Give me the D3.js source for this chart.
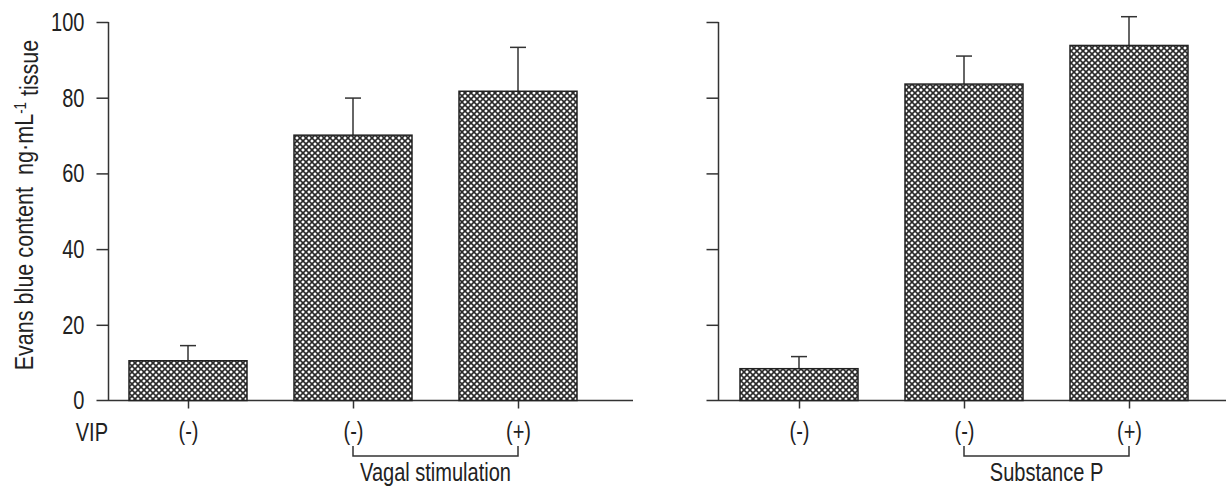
<!DOCTYPE html>
<head>
    <meta charset="utf-8">
    <script src="https://d3js.org/d3.v7.min.js"></script>
    <style>
        body {
            margin: 0;
            background: #fff;
        }
        text {
            font-family: "Liberation Sans", Arial, sans-serif;
            font-size: 26px;
            fill: #222;
        }
        .axis path,
        .axis line,
        .baseline,
        .bracket,
        .err {
            stroke: #333;
            stroke-width: 1.5px;
            fill: none;
        }
        .bar {
            stroke: #222;
            stroke-width: 1.5px;
        }
    </style>
</head>

<body>
<div id="vis"></div>

<script>
    // values
    var groups = ["none", "stim", "stimVip"];
    var vipLabels = ["(-)", "(-)", "(+)"];
    var yTicks = [0, 20, 40, 60, 80, 100];

    var vagalMean = [10.5, 70.1, 81.7],
        vagalErr = [4.0, 9.8, 11.6];

    var spMean = [8.4, 83.6, 93.8],
        spErr = [3.2, 7.4, 7.6];

    var width = 1229,
        height = 489;

    var barWidth = 118;
    var squeeze = 0.77; // no condensed font installed, so squeeze the text

    var svg = d3.select("#vis")
        .append("svg")
        .attr("width", width)
        .attr("height", height);

    // crosshatch fill
    var pat = svg.append("defs").append("pattern")
        .attr("id", "hatch")
        .attr("patternUnits", "userSpaceOnUse")
        .attr("width", 6)
        .attr("height", 6);
    pat.append("rect")
        .attr("width", 6)
        .attr("height", 6)
        .attr("fill", "#fff");
    pat.append("path")
        .attr("d", "M0,0L6,6M6,0L0,6")
        .attr("stroke", "#2a2a2a")
        .attr("stroke-width", 1.6);

    var y = d3.scaleLinear()
        .domain([0, 100])
        .range([400.5, 22]);

    // turn x/y into a translate + horizontal squeeze
    function narrow(sel) {
        sel.each(function() {
            var t = d3.select(this),
                tx = +t.attr("x") || 0,
                ty = +t.attr("y") || 0;
            t.attr("x", null).attr("y", null)
                .attr("transform", "translate(" + tx + "," + ty + ") scale(" + squeeze + ",1)");
        });
    }

    function panel(opts) {
        var x = d3.scalePoint()
            .domain(groups)
            .range(opts.range);

        var g = svg.append("g");

        // baseline
        g.append("line")
            .attr("class", "baseline")
            .attr("x1", opts.axisX - 12)
            .attr("x2", opts.baseEnd)
            .attr("y1", y(0))
            .attr("y2", y(0));

        // y axis
        var yAxis = d3.axisLeft(y)
            .tickValues(yTicks.slice(1))
            .tickSize(12)
            .tickSizeOuter(0)
            .tickPadding(12)
            .tickFormat(opts.labels ? d3.format("d") : "");

        var ga = g.append("g")
            .attr("class", "axis")
            .attr("transform", "translate(" + opts.axisX + ",0)")
            .call(yAxis);
        ga.select(".domain").attr("d", "M0," + y(0) + "V" + y(100));
        ga.selectAll("text").attr("fill", "#222").style("font-size", "26px").call(narrow);

        if (opts.labels) {
            g.append("text")
                .attr("x", opts.axisX - 24)
                .attr("y", y(0))
                .attr("dy", "0.34em")
                .attr("text-anchor", "end")
                .text("0")
                .call(narrow);
        }

        // x ticks
        var xAxis = d3.axisBottom(x)
            .tickSize(8)
            .tickPadding(13)
            .tickFormat(function(d, i) { return vipLabels[i]; });

        var gx = g.append("g")
            .attr("class", "axis")
            .attr("transform", "translate(0," + y(0) + ")")
            .call(xAxis);
        gx.select(".domain").remove();
        gx.selectAll("text").attr("fill", "#222").style("font-size", "26px").call(narrow);

        var data = groups.map(function(k, i) {
            return {key: k, mean: opts.mean[i], err: opts.err[i]};
        });

        // error bars
        var eb = g.selectAll(".eb")
            .data(data)
            .enter()
            .append("g");
        eb.append("line")
            .attr("class", "err")
            .attr("x1", function(d) { return x(d.key); })
            .attr("x2", function(d) { return x(d.key); })
            .attr("y1", function(d) { return y(d.mean); })
            .attr("y2", function(d) { return y(d.mean + d.err); });
        eb.append("line")
            .attr("class", "err")
            .attr("x1", function(d) { return x(d.key) - 8; })
            .attr("x2", function(d) { return x(d.key) + 8; })
            .attr("y1", function(d) { return y(d.mean + d.err); })
            .attr("y2", function(d) { return y(d.mean + d.err); });

        // bars
        g.selectAll(".bar")
            .data(data)
            .enter()
            .append("rect")
            .attr("class", "bar")
            .attr("x", function(d) { return x(d.key) - barWidth / 2; })
            .attr("width", barWidth)
            .attr("y", function(d) { return y(d.mean); })
            .attr("height", function(d) { return y(0) - y(d.mean); })
            .attr("fill", "url(#hatch)");

        // bracket under the two treated groups
        var bx1 = x(groups[1]),
            bx2 = x(groups[2]);
        g.append("path")
            .attr("class", "bracket")
            .attr("d", "M" + bx1 + ",446V456H" + bx2 + "V446");

        g.append("text")
            .attr("x", (bx1 + bx2) / 2)
            .attr("y", 481)
            .attr("text-anchor", "middle")
            .text(opts.group)
            .call(narrow);

        return g;
    }

    panel({range: [188, 518], axisX: 108.5, baseEnd: 633, labels: true,
           mean: vagalMean, err: vagalErr, group: "Vagal stimulation"});

    panel({range: [799, 1129], axisX: 718.5, baseEnd: 1226, labels: false,
           mean: spMean, err: spErr, group: "Substance P"});

    // row label
    svg.append("text")
        .attr("x", 108)
        .attr("y", 441)
        .attr("text-anchor", "end")
        .text("VIP")
        .call(narrow);

    // y axis title
    var title = svg.append("text")
        .attr("transform", "translate(33,205) rotate(-90) scale(0.83,1)")
        .attr("text-anchor", "middle");
    title.append("tspan").text("Evans blue content\u00a0\u00a0ng\u00b7mL");
    title.append("tspan")
        .attr("dy", "-0.45em")
        .style("font-size", "16px")
        .text("-1");
    title.append("tspan")
        .attr("dy", "0.45em")
        .text("\u00a0tissue");
</script>
</body>
